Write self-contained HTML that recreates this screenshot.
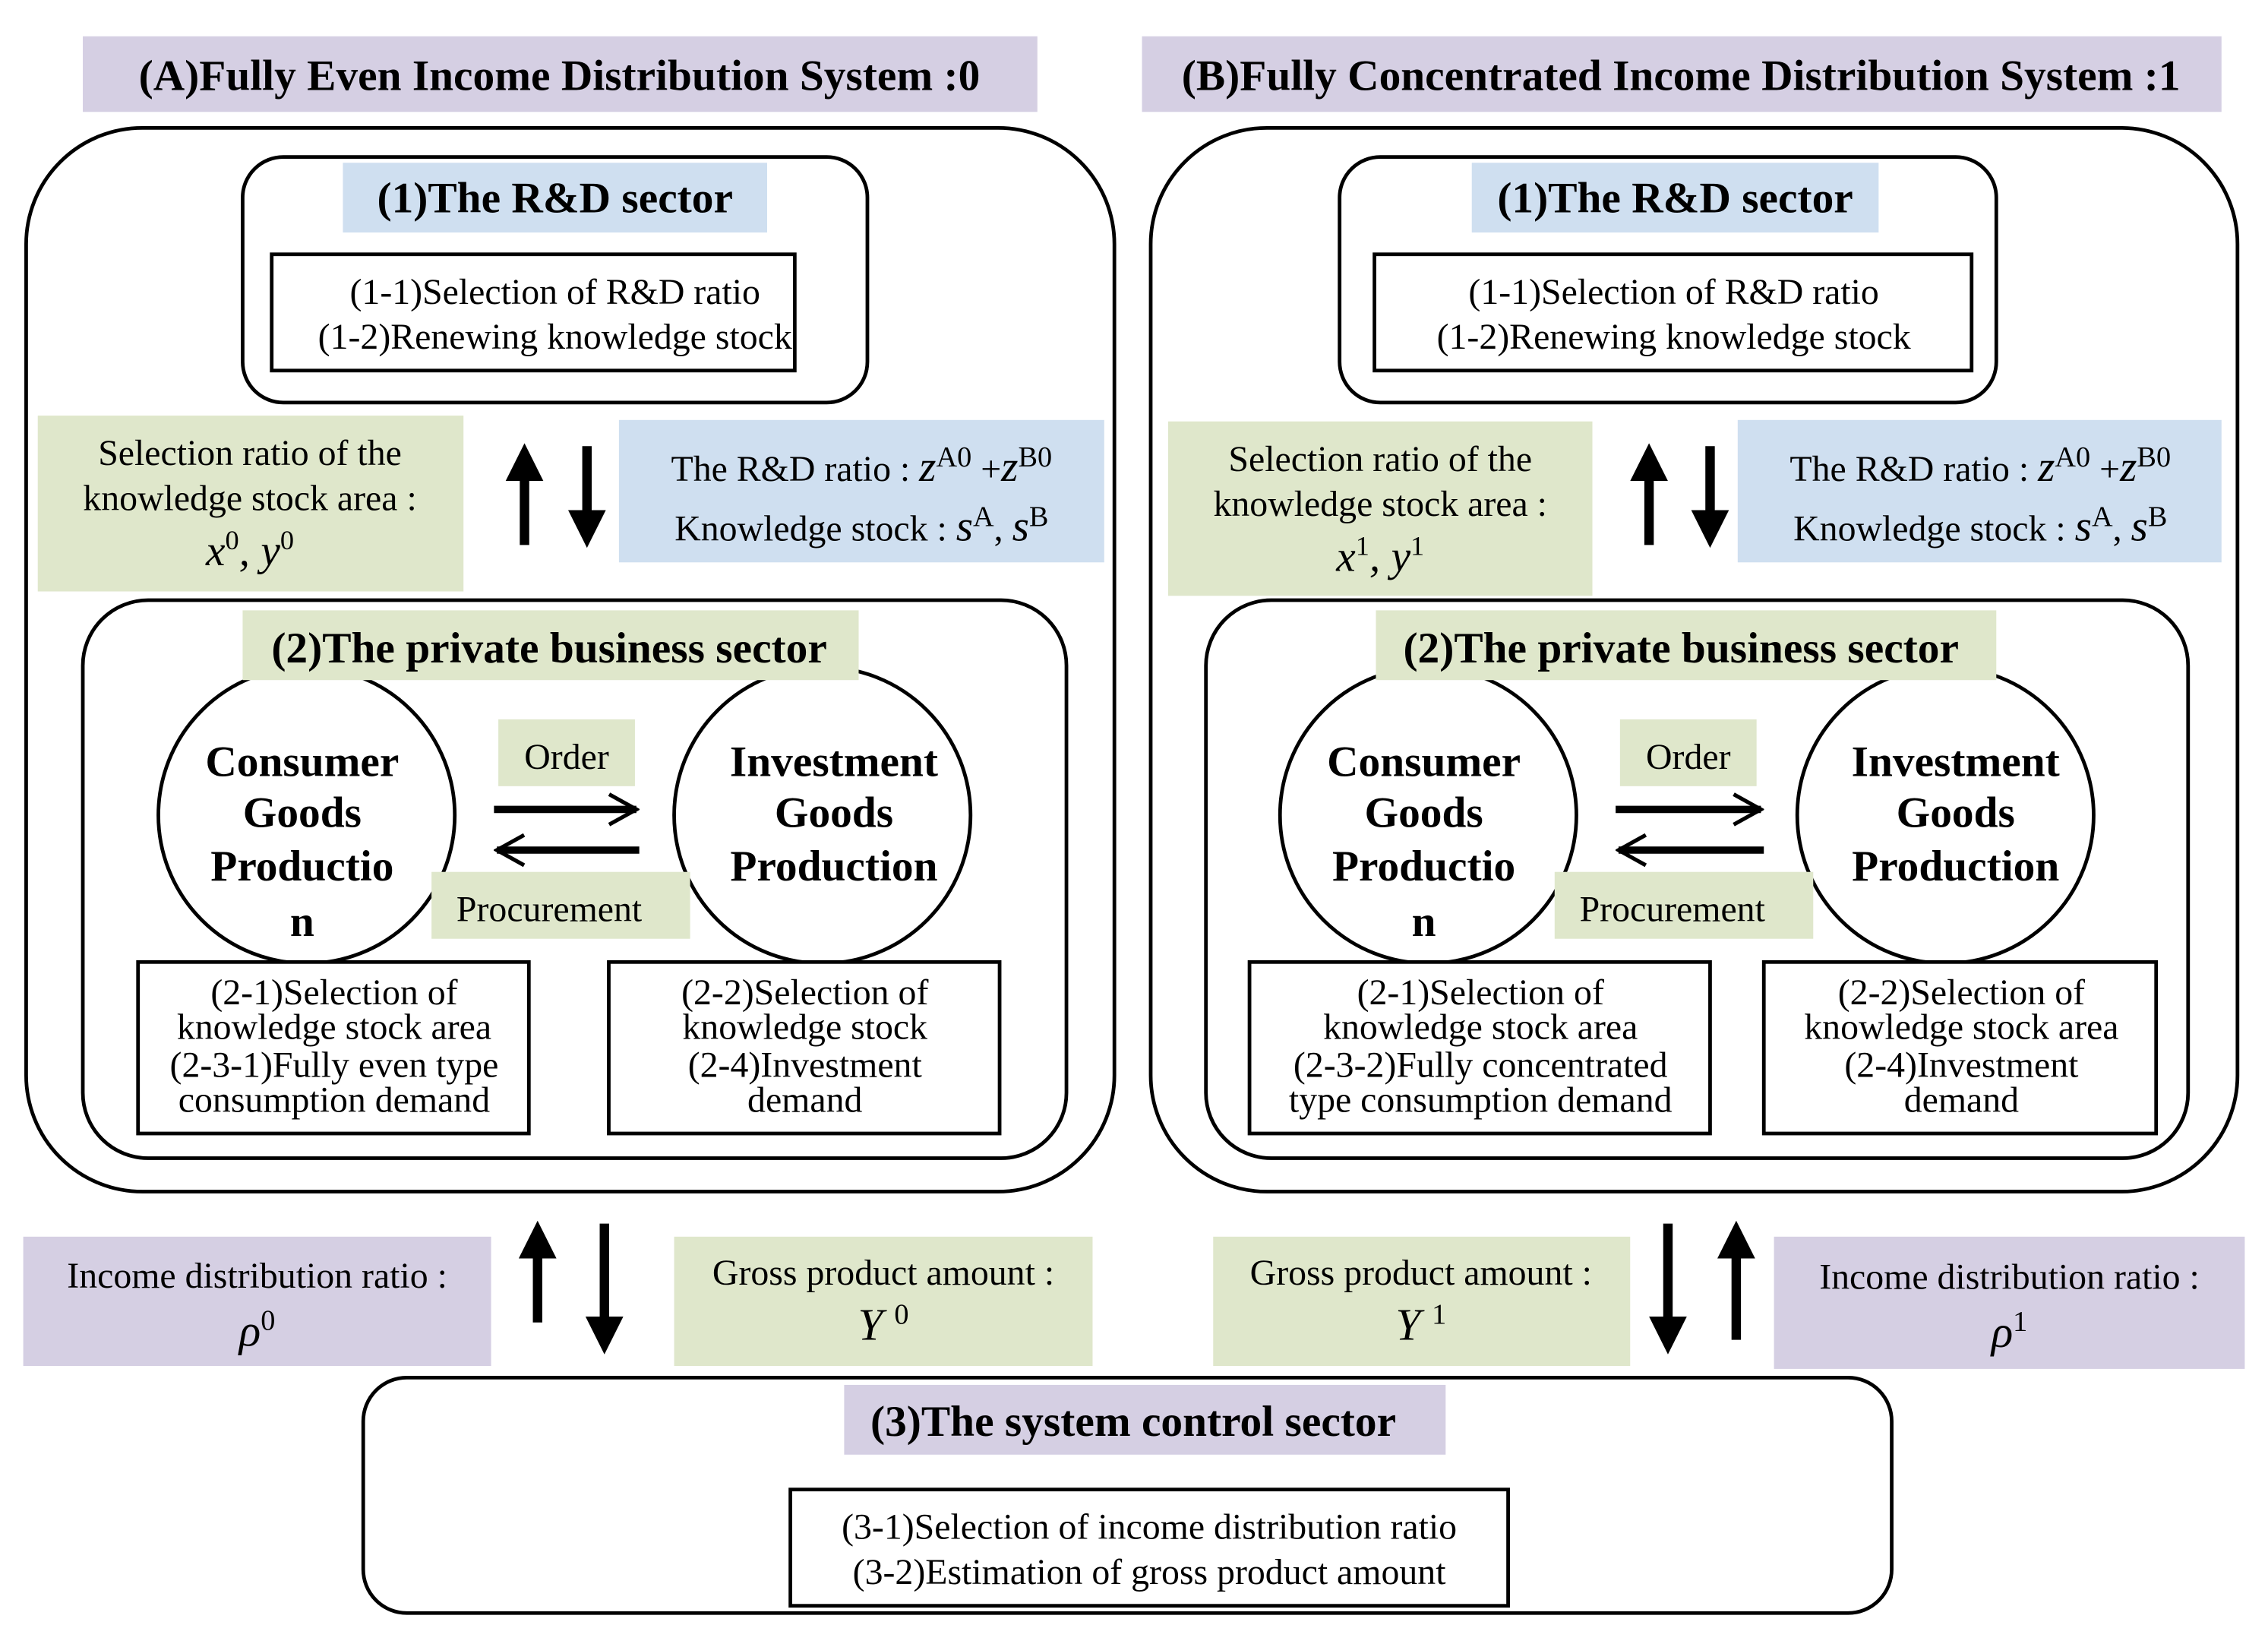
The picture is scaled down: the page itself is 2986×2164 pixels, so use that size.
<!DOCTYPE html>
<html><head><meta charset="utf-8"><style>
html,body{margin:0;padding:0;background:#fff;}
svg{display:block}
text{font-family:"Liberation Serif",serif;fill:#000}
.t{font-size:30px;font-weight:bold}
.s{font-size:25px}
.c{font-size:30px;font-weight:bold}
</style></head><body>
<svg width="2986" height="2164" viewBox="0 0 1561 1131.3" preserveAspectRatio="none" xmlns="http://www.w3.org/2000/svg">
<defs>
<marker id="ah" viewBox="0 0 10 10" refX="5" refY="5" markerWidth="4" markerHeight="4" orient="auto"><path d="M0,0L10,5L0,10z" fill="#000"/></marker>
<marker id="oh" viewBox="0 0 12 12" refX="11" refY="6" markerWidth="5" markerHeight="5" orient="auto"><path d="M2,1L11,6L2,11" fill="none" stroke="#000" stroke-width="1.3"/></marker>
</defs>
<g stroke="#000" stroke-width="2.5" fill="none">
<rect x="18" y="88" width="749" height="732" rx="80"/>
<rect x="792" y="88" width="748" height="732" rx="80"/>
<rect x="167" y="108" width="430" height="169" rx="28" fill="#fff"/>
<rect x="922" y="108" width="452" height="169" rx="28" fill="#fff"/>
<rect x="57" y="413" width="677" height="384" rx="45"/>
<rect x="830" y="413" width="676" height="384" rx="45"/>
<rect x="250" y="948" width="1052" height="162" rx="30"/>
</g>
<rect x="57" y="25" width="657" height="52" fill="#d5cfe3"/>
<text class="t" x="385" y="62" text-anchor="middle">(A)Fully Even Income Distribution System :0</text>
<rect x="786" y="25" width="743" height="52" fill="#d5cfe3"/>
<text class="t" x="1157" y="62" text-anchor="middle">(B)Fully Concentrated Income Distribution System :1</text>

<rect x="236" y="112" width="292" height="48" fill="#cfdff0"/>
<text class="t" x="382" y="146" text-anchor="middle">(1)The R&amp;D sector</text>
<rect x="187" y="175" width="360" height="80" fill="none" stroke="#000" stroke-width="2.5"/>
<text class="s" x="382" y="209" text-anchor="middle">(1-1)Selection of R&amp;D ratio</text>
<text class="s" x="382" y="240" text-anchor="middle">(1-2)Renewing knowledge stock</text>
<rect x="1013" y="112" width="280" height="48" fill="#cfdff0"/>
<text class="t" x="1153" y="146" text-anchor="middle">(1)The R&amp;D sector</text>
<rect x="946" y="175" width="411" height="80" fill="none" stroke="#000" stroke-width="2.5"/>
<text class="s" x="1152" y="209" text-anchor="middle">(1-1)Selection of R&amp;D ratio</text>
<text class="s" x="1152" y="240" text-anchor="middle">(1-2)Renewing knowledge stock</text>

<rect x="26" y="286" width="293" height="121" fill="#dfe7cb"/>
<text class="s" x="172" y="320" text-anchor="middle">Selection ratio of the</text>
<text class="s" x="172" y="351" text-anchor="middle">knowledge stock area :</text>
<text x="172" y="389" text-anchor="middle" font-style="italic" font-size="30">x<tspan font-style="normal" font-size="19" dy="-11">0</tspan><tspan dy="11">, y</tspan><tspan font-style="normal" font-size="19" dy="-11">0</tspan></text>
<rect x="426" y="289" width="334" height="98" fill="#cfdff0"/>
<text class="s" x="593" y="331" text-anchor="middle">The R&amp;D ratio : <tspan font-style="italic" font-size="30">z</tspan><tspan font-size="20" dy="-10">A0</tspan><tspan dy="10"> +</tspan><tspan font-style="italic" font-size="30">z</tspan><tspan font-size="20" dy="-10">B0</tspan></text>
<text class="s" x="593" y="372" text-anchor="middle">Knowledge stock : <tspan font-style="italic" font-size="30">s</tspan><tspan font-size="20" dy="-10">A</tspan><tspan dy="10">, </tspan><tspan font-style="italic" font-size="30">s</tspan><tspan font-size="20" dy="-10">B</tspan></text>
<g stroke="#000" stroke-width="6.5" marker-end="url(#ah)">
<line x1="361" y1="375" x2="361" y2="318"/>
<line x1="404" y1="307" x2="404" y2="364"/>
<line x1="1135" y1="375" x2="1135" y2="318"/>
<line x1="1177" y1="307" x2="1177" y2="364"/>
<line x1="370" y1="910" x2="370" y2="853"/>
<line x1="416" y1="842" x2="416" y2="919"/>
<line x1="1148" y1="842" x2="1148" y2="919"/>
<line x1="1195" y1="922" x2="1195" y2="853"/>
</g>
<rect x="804" y="290" width="292" height="120" fill="#dfe7cb"/>
<text class="s" x="950" y="324" text-anchor="middle">Selection ratio of the</text>
<text class="s" x="950" y="355" text-anchor="middle">knowledge stock area :</text>
<text x="950" y="393" text-anchor="middle" font-style="italic" font-size="30">x<tspan font-style="normal" font-size="19" dy="-11">1</tspan><tspan dy="11">, y</tspan><tspan font-style="normal" font-size="19" dy="-11">1</tspan></text>
<rect x="1196" y="289" width="333" height="98" fill="#cfdff0"/>
<text class="s" x="1363" y="331" text-anchor="middle">The R&amp;D ratio : <tspan font-style="italic" font-size="30">z</tspan><tspan font-size="20" dy="-10">A0</tspan><tspan dy="10"> +</tspan><tspan font-style="italic" font-size="30">z</tspan><tspan font-size="20" dy="-10">B0</tspan></text>
<text class="s" x="1363" y="372" text-anchor="middle">Knowledge stock : <tspan font-style="italic" font-size="30">s</tspan><tspan font-size="20" dy="-10">A</tspan><tspan dy="10">, </tspan><tspan font-style="italic" font-size="30">s</tspan><tspan font-size="20" dy="-10">B</tspan></text>

<g stroke="#000" stroke-width="2.5" fill="#fff">
<circle cx="211" cy="561" r="102"/><circle cx="566" cy="561" r="102"/>
<circle cx="983" cy="561" r="102"/><circle cx="1339" cy="561" r="102"/>
</g>
<rect x="167" y="420" width="424" height="48" fill="#dfe7cb"/>
<text class="t" x="378" y="456" text-anchor="middle">(2)The private business sector</text>
<rect x="947" y="420" width="427" height="48" fill="#dfe7cb"/>
<text class="t" x="1157" y="456" text-anchor="middle">(2)The private business sector</text>

<text class="c" x="208" y="534" text-anchor="middle">Consumer</text><text class="c" x="208" y="569" text-anchor="middle">Goods</text><text class="c" x="208" y="606" text-anchor="middle">Productio</text><text class="c" x="208" y="644" text-anchor="middle">n</text>
<text class="c" x="574" y="534" text-anchor="middle">Investment</text><text class="c" x="574" y="569" text-anchor="middle">Goods</text><text class="c" x="574" y="606" text-anchor="middle">Production</text>
<text class="c" x="980" y="534" text-anchor="middle">Consumer</text><text class="c" x="980" y="569" text-anchor="middle">Goods</text><text class="c" x="980" y="606" text-anchor="middle">Productio</text><text class="c" x="980" y="644" text-anchor="middle">n</text>
<text class="c" x="1346" y="534" text-anchor="middle">Investment</text><text class="c" x="1346" y="569" text-anchor="middle">Goods</text><text class="c" x="1346" y="606" text-anchor="middle">Production</text>

<rect x="343" y="495" width="94" height="46" fill="#dfe7cb"/>
<text class="s" x="390" y="529" text-anchor="middle">Order</text>
<rect x="1115" y="495" width="94" height="46" fill="#dfe7cb"/>
<text class="s" x="1162" y="529" text-anchor="middle">Order</text>
<g stroke="#000" stroke-width="5" fill="none" marker-end="url(#oh)">
<line x1="340" y1="557" x2="438" y2="557"/>
<line x1="440" y1="585" x2="342" y2="585"/>
<line x1="1112" y1="557" x2="1212" y2="557"/>
<line x1="1214" y1="585" x2="1114" y2="585"/>
</g>
<rect x="297" y="600" width="178" height="46" fill="#dfe7cb"/>
<text class="s" x="378" y="634" text-anchor="middle">Procurement</text>
<rect x="1070" y="600" width="178" height="46" fill="#dfe7cb"/>
<text class="s" x="1151" y="634" text-anchor="middle">Procurement</text>

<g fill="#fff" stroke="#000" stroke-width="2.5">
<rect x="95" y="662" width="269" height="118"/>
<rect x="419" y="662" width="269" height="118"/>
<rect x="860" y="662" width="317" height="118"/>
<rect x="1214" y="662" width="270" height="118"/>
</g>
<text class="s" x="230" y="691" text-anchor="middle">(2-1)Selection of</text><text class="s" x="230" y="715" text-anchor="middle">knowledge stock area</text><text class="s" x="230" y="741" text-anchor="middle">(2-3-1)Fully even type</text><text class="s" x="230" y="765" text-anchor="middle">consumption demand</text>
<text class="s" x="554" y="691" text-anchor="middle">(2-2)Selection of</text><text class="s" x="554" y="715" text-anchor="middle">knowledge stock</text><text class="s" x="554" y="741" text-anchor="middle">(2-4)Investment</text><text class="s" x="554" y="765" text-anchor="middle">demand</text>
<text class="s" x="1019" y="691" text-anchor="middle">(2-1)Selection of</text><text class="s" x="1019" y="715" text-anchor="middle">knowledge stock area</text><text class="s" x="1019" y="741" text-anchor="middle">(2-3-2)Fully concentrated</text><text class="s" x="1019" y="765" text-anchor="middle">type consumption demand</text>
<text class="s" x="1350" y="691" text-anchor="middle">(2-2)Selection of</text><text class="s" x="1350" y="715" text-anchor="middle">knowledge stock area</text><text class="s" x="1350" y="741" text-anchor="middle">(2-4)Investment</text><text class="s" x="1350" y="765" text-anchor="middle">demand</text>

<rect x="16" y="851" width="322" height="89" fill="#d5cfe3"/>
<text class="s" x="177" y="886" text-anchor="middle">Income distribution ratio :</text>
<text x="177" y="926" text-anchor="middle" font-style="italic" font-size="31">ρ<tspan font-style="normal" font-size="20" dy="-11">0</tspan></text>
<rect x="464" y="851" width="288" height="89" fill="#dfe7cb"/>
<text class="s" x="608" y="884" text-anchor="middle">Gross product amount :</text>
<text x="608" y="922" text-anchor="middle" font-style="italic" font-size="31">Y <tspan font-style="normal" font-size="20" dy="-11">0</tspan></text>
<rect x="835" y="851" width="287" height="89" fill="#dfe7cb"/>
<text class="s" x="978" y="884" text-anchor="middle">Gross product amount :</text>
<text x="978" y="922" text-anchor="middle" font-style="italic" font-size="31">Y <tspan font-style="normal" font-size="20" dy="-11">1</tspan></text>
<rect x="1221" y="851" width="324" height="91" fill="#d5cfe3"/>
<text class="s" x="1383" y="887" text-anchor="middle">Income distribution ratio :</text>
<text x="1383" y="927" text-anchor="middle" font-style="italic" font-size="31">ρ<tspan font-style="normal" font-size="20" dy="-11">1</tspan></text>

<rect x="581" y="953" width="414" height="48" fill="#d5cfe3"/>
<text class="t" x="780" y="988" text-anchor="middle">(3)The system control sector</text>
<rect x="544" y="1025" width="494" height="80" fill="none" stroke="#000" stroke-width="2.5"/>
<text class="s" x="791" y="1059" text-anchor="middle">(3-1)Selection of income distribution ratio</text>
<text class="s" x="791" y="1090" text-anchor="middle">(3-2)Estimation of gross product amount</text>
</svg>
</body></html>
